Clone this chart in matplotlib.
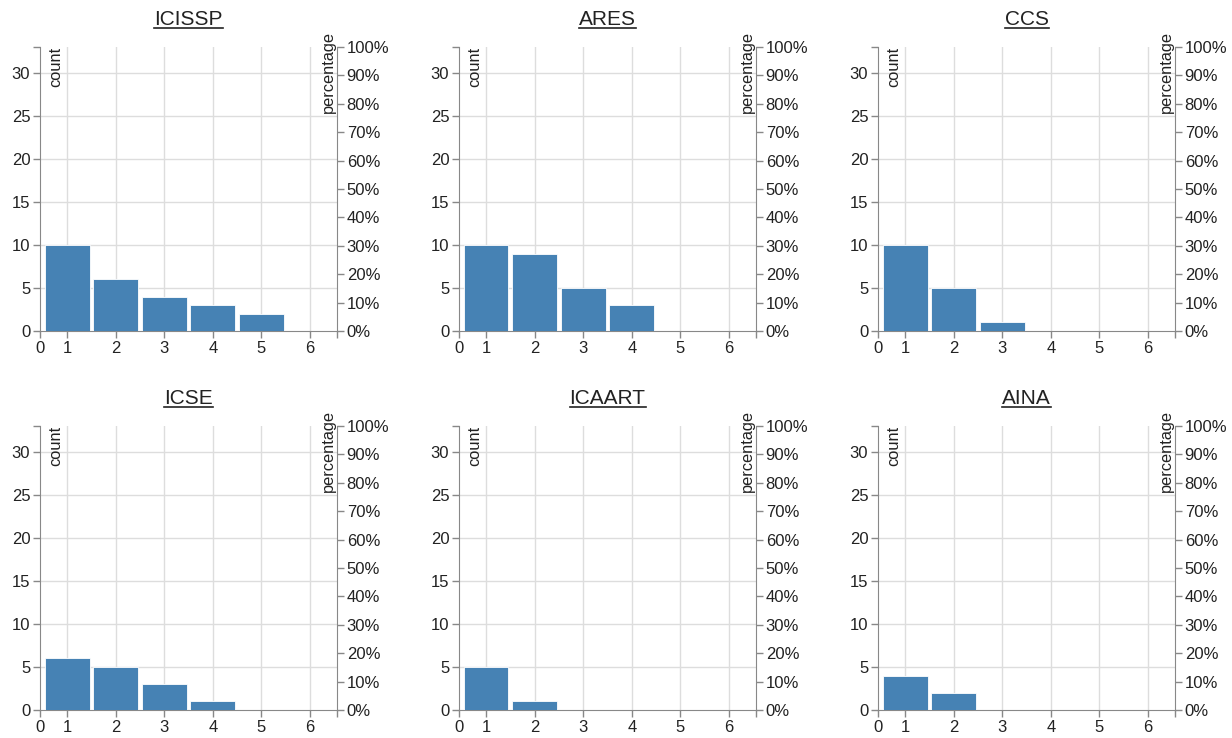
import matplotlib
matplotlib.use("Agg")
import matplotlib.pyplot as plt

plt.rcParams['font.family'] = ['Liberation Sans', 'DejaVu Sans']

# ----- data -----
venues = ["ICISSP", "ARES", "CCS", "ICSE", "ICAART", "AINA"]
icissp = [10, 6, 4, 3, 2]
ares = [10, 9, 5, 3]
ccs = [10, 5, 1]
icse = [6, 5, 3, 1]
icaart = [5, 1]
aina = [4, 2]
counts = [icissp, ares, ccs, icse, icaart, aina]
total = 33          # 100% on the right axis
x_ticks = [1, 2, 3, 4, 5, 6]
y_ticks = [0, 5, 10, 15, 20, 25, 30]
pct_ticks = [0, 10, 20, 30, 40, 50, 60, 70, 80, 90, 100]
# -----------------

BAR = "#4682b4"
GRID = "#dddddd"
AXIS = "#888888"
TXT = "#222222"
X0, X1 = 0.44, 6.56

fig = plt.figure(figsize=(12.32, 7.38), dpi=100)

lefts = [40, 459, 878]
tops = [47, 426]
W, H = 297, 284

for i, (name, vals) in enumerate(zip(venues, counts)):
    r, c = divmod(i, 3)
    l = lefts[c] / 1232
    b = 1 - (tops[r] + H) / 738
    ax = fig.add_axes([l, b, W / 1232, H / 738])

    xs = list(range(1, len(vals) + 1))
    ax.bar(xs, vals, width=0.92, color=BAR, edgecolor="white", linewidth=0.6, zorder=3)

    ax.set_xlim(X0, X1)
    ax.set_ylim(0, total)

    # grid
    for gx in x_ticks:
        ax.axvline(gx, color=GRID, lw=1, zorder=0)
    for gy in y_ticks[1:]:
        ax.axhline(gy, color=GRID, lw=1, zorder=0)

    ax.set_xticks([X0] + x_ticks + [X1])
    ax.set_xticklabels(["0"] + [str(v) for v in x_ticks] + [""])
    ax.set_yticks(y_ticks + [total])
    ax.set_yticklabels([str(v) for v in y_ticks] + [""])

    for s in ["top", "right"]:
        ax.spines[s].set_visible(False)
    for s in ["left", "bottom"]:
        ax.spines[s].set_color(AXIS)
    ax.tick_params(colors=AXIS, labelcolor=TXT, labelsize=12, length=5, width=1, pad=2)

    ax2 = ax.twinx()
    ax2.set_ylim(0, 100)
    ax2.set_yticks(pct_ticks)
    ax2.set_yticklabels([f"{p}%" for p in pct_ticks])
    for s in ["top", "left", "bottom"]:
        ax2.spines[s].set_visible(False)
    ax2.spines["right"].set_color(AXIS)
    ax2.tick_params(colors=AXIS, labelcolor=TXT, labelsize=12, length=5, width=1, pad=2)

    ax.text(0.027, 1.0, "count", transform=ax.transAxes, rotation=90,
            ha="left", va="top", fontsize=11.8, color=TXT)
    ax.text(0.998, 1 + 16 / H, "percentage", transform=ax.transAxes, rotation=90,
            ha="right", va="top", fontsize=11.8, color=TXT)

    t = ax.set_title(name, fontsize=15, color=TXT, pad=16)
    # underline
    fig.canvas.draw()
    bb = t.get_window_extent()
    y_line = bb.y0 + 1
    fig.add_artist(plt.Line2D([bb.x0 / 1232, bb.x1 / 1232], [y_line / 738, y_line / 738],
                              color=TXT, lw=1.2))

fig.savefig("out.png", dpi=100, facecolor="white")
